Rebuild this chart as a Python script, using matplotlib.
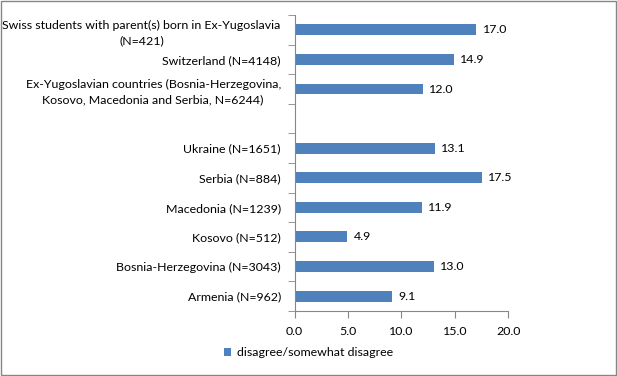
import matplotlib
matplotlib.use("Agg")
import matplotlib.pyplot as plt
import numpy as np

plt.rcParams['font.family'] = ['Lato', 'DejaVu Sans']

# top to bottom, '' is the gap between the two groups
labels = [
    "Swiss students with parent(s) born in Ex-Yugoslavia\n(N=421)",
    "Switzerland (N=4148)",
    "Ex-Yugoslavian countries (Bosnia-Herzegovina,\nKosovo, Macedonia and Serbia, N=6244)",
    "",
    "Ukraine (N=1651)",
    "Serbia (N=884)",
    "Macedonia (N=1239)",
    "Kosovo (N=512)",
    "Bosnia-Herzegovina (N=3043)",
    "Armenia (N=962)",
]
values = [17.0, 14.9, 12.0, np.nan, 13.1, 17.5, 11.9, 4.9, 13.0, 9.1]
series_name = "disagree/somewhat disagree"
xticks = [0, 5, 10, 15, 20]

color = "#4F81BD"
fs = 8.9

fig = plt.figure(figsize=(6.17, 3.76), dpi=100)
ax = fig.add_axes([0.4776, 0.173, 0.3462, 0.787])

n = len(labels)
y = np.arange(n)
bars = ax.barh(y, values, height=0.37, color=color, label=series_name)
ax.set_ylim(n - 0.5, -0.5)
ax.set_xlim(0, 20)

for yi, v in zip(y, values):
    if np.isnan(v):
        continue
    ax.text(v + 0.6, yi, f"{v:.1f}", va="center", ha="left", fontsize=fs)

ax.set_yticks(y)
ax.set_yticklabels(labels, fontsize=fs, ha="right")
ax.tick_params(axis="y", length=0, pad=10)
# category separator ticks
ax.set_yticks(np.arange(-0.5, n + 0.5, 1), minor=True)
ax.tick_params(axis="y", which="minor", length=5, color="#868686")

ax.set_xticks(xticks)
ax.set_xticklabels([f"{t:.1f}" for t in xticks], fontsize=fs)
ax.tick_params(axis="x", length=5, color="#868686", pad=6)

for s in ["top", "right"]:
    ax.spines[s].set_visible(False)
for s in ["left", "bottom"]:
    ax.spines[s].set_color("#868686")
    ax.spines[s].set_linewidth(0.8)

for lab in ax.get_yticklabels():
    lab.set_multialignment("center")
    lab.set_linespacing(1.45)

fig.legend(handles=[bars], labels=[series_name], loc="center",
           bbox_to_anchor=(0.5, 0.062), frameon=False, fontsize=fs,
           handlelength=0.6, handleheight=0.6, handletextpad=0.5)

fig.patches.append(plt.Rectangle((0.001, 0.002), 0.997, 0.996, transform=fig.transFigure,
                                 fill=False, edgecolor="#868686", linewidth=1))

fig.savefig("out.png", dpi=100)
